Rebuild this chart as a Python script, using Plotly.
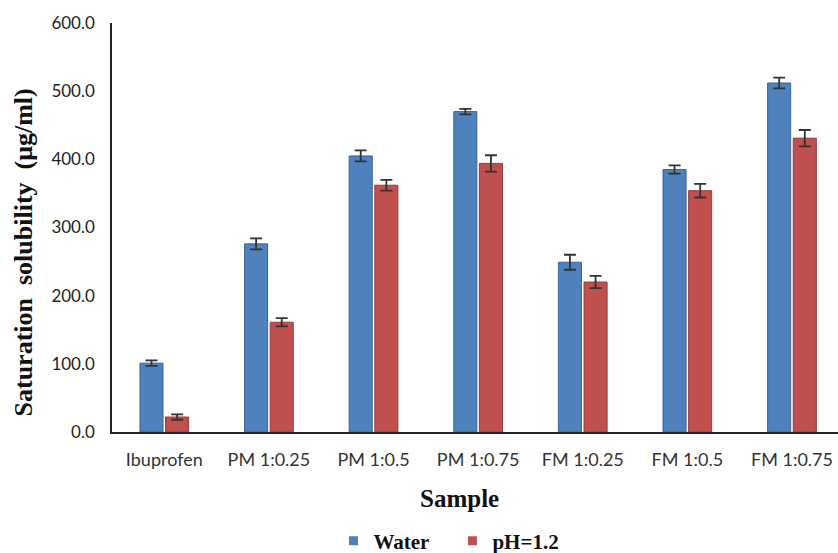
import plotly.graph_objects as go

categories = ["Ibuprofen", "PM 1:0.25", "PM 1:0.5", "PM 1:0.75", "FM 1:0.25", "FM 1:0.5", "FM 1:0.75"]
water = [101, 276, 405, 470, 249, 385, 512]
water_err = [4, 8, 8, 4, 11, 6, 8]
ph12 = [22, 161, 362, 394, 220, 354, 431]
ph12_err = [4, 6, 8, 12, 9, 10, 12]
y_ticks = [0, 100, 200, 300, 400, 500, 600]
series_names = ["Water", "pH=1.2"]
series_colors = ["#4F81BD", "#C0504D"]
series_edges = ["#3A6596", "#963C3A"]

x_idx = list(range(len(categories)))

fig = go.Figure()
for vals, errs, name, col, edge in [
    (water, water_err, series_names[0], series_colors[0], series_edges[0]),
    (ph12, ph12_err, series_names[1], series_colors[1], series_edges[1]),
]:
    fig.add_trace(go.Bar(
        x=x_idx, y=vals, name=name, showlegend=False,
        marker=dict(color=col, line=dict(color=edge, width=1)),
        error_y=dict(type="data", array=errs, visible=True, color="#333333", thickness=1.8, width=6),
    ))
# legend entries (small squares as in the reference)
for name, col in zip(series_names, series_colors):
    fig.add_trace(go.Scatter(
        x=[None], y=[None], mode="markers", name="<b>%s</b>" % name,
        marker=dict(symbol="square", size=9, color=col),
    ))

fig.update_layout(
    width=838, height=553,
    margin=dict(l=112, r=0, t=23, b=121, autoexpand=False),
    paper_bgcolor="white", plot_bgcolor="white",
    barmode="group", bargap=0.51, bargroupgap=0.1,
    showlegend=True,
    legend=dict(orientation="h", x=0.305, y=-0.2665, xanchor="left", yanchor="middle",
                font=dict(family="Liberation Serif", size=21, color="#111111"),
                entrywidth=74, itemwidth=30, bgcolor="rgba(0,0,0,0)"),
    font=dict(family="Lato", color="#333333"),
)
fig.update_xaxes(
    range=[-0.5, 6.44], tickmode="array", tickvals=x_idx, ticktext=categories,
    showline=True, linecolor="#222222", linewidth=1.5, showgrid=False, zeroline=False,
    ticks="", tickfont=dict(family="Lato", size=18, color="#333333"), ticklabelstandoff=11,
)
fig.update_yaxes(
    range=[0, 600], tickmode="array", tickvals=y_ticks, tickformat=".1f",
    showline=True, linecolor="#222222", linewidth=1.5, showgrid=False, zeroline=False,
    ticks="", tickfont=dict(family="Lato", size=17, color="#222222"), ticklabelstandoff=12,
)
fig.add_annotation(
    text="<b>Saturation  solubility  (μg/ml)</b>", textangle=-90,
    xref="paper", yref="paper", x=-0.122, y=0.44, xanchor="center", yanchor="middle",
    showarrow=False,
    font=dict(family="Liberation Serif", size=26, color="#111111"),
)
fig.add_annotation(
    text="<b>Sample</b>", xref="paper", yref="paper", x=0.478, y=-0.162,
    showarrow=False, xanchor="center", yanchor="middle",
    font=dict(family="Liberation Serif", size=25, color="#111111"),
)

fig.write_html("out.html")
